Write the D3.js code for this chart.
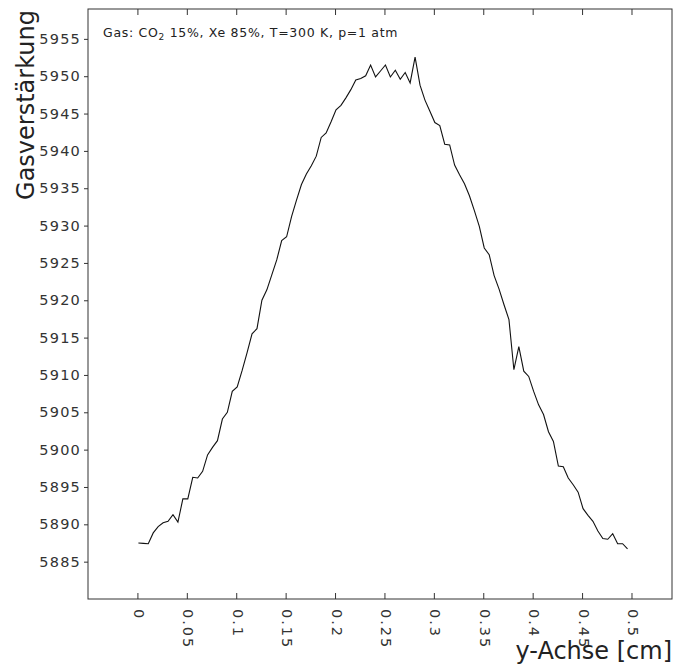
<html>
<script src="https://d3js.org/d3.v7.min.js"></script>
<body style="margin:0;background:#fff">
<script>
// position along y-axis [cm]
var yPos = [0.001, 0.006, 0.011, 0.016, 0.021, 0.026, 0.031, 0.036, 0.041, 0.046,
    0.051, 0.056, 0.061, 0.066, 0.071, 0.076, 0.081, 0.086, 0.091, 0.096,
    0.101, 0.106, 0.111, 0.116, 0.121, 0.126, 0.131, 0.136, 0.141, 0.146,
    0.151, 0.156, 0.161, 0.166, 0.171, 0.176, 0.181, 0.186, 0.191, 0.196,
    0.201, 0.206, 0.211, 0.216, 0.221, 0.226, 0.231, 0.236, 0.241, 0.246,
    0.251, 0.256, 0.261, 0.266, 0.271, 0.276, 0.281, 0.286, 0.291, 0.296,
    0.301, 0.306, 0.311, 0.316, 0.321, 0.326, 0.331, 0.336, 0.341, 0.346,
    0.351, 0.356, 0.361, 0.366, 0.371, 0.376, 0.381, 0.386, 0.391, 0.396,
    0.401, 0.406, 0.411, 0.416, 0.421, 0.426, 0.431, 0.436, 0.441, 0.446,
    0.451, 0.456, 0.461, 0.466, 0.471, 0.476, 0.481, 0.486, 0.491, 0.496]
// gas gain
var gain = [5887.5, 5887.45, 5887.4, 5888.85, 5889.7, 5890.2, 5890.4, 5891.3, 5890.3, 5893.4,
    5893.4, 5896.3, 5896.2, 5897.1, 5899.3, 5900.3, 5901.2, 5904.1, 5905.0, 5907.8,
    5908.4, 5910.6, 5913.0, 5915.5, 5916.2, 5920.0, 5921.4, 5923.4, 5925.4, 5928.0,
    5928.5, 5931.2, 5933.4, 5935.5, 5936.9, 5938.0, 5939.3, 5941.8, 5942.4, 5943.9,
    5945.5, 5946.1, 5947.1, 5948.2, 5949.5, 5949.7, 5950.05, 5951.5, 5949.9, 5950.7,
    5951.5, 5949.9, 5950.8, 5949.6, 5950.5, 5949.1, 5952.55, 5948.8, 5946.8, 5945.3,
    5943.8, 5943.4, 5940.9, 5940.8, 5938.1, 5936.8, 5935.6, 5934.0, 5932.0, 5929.9,
    5927.0, 5926.1, 5923.3, 5921.5, 5919.4, 5917.4, 5910.7, 5913.8, 5910.5, 5909.8,
    5907.8, 5906.0, 5904.7, 5902.4, 5901.1, 5897.8, 5897.7, 5896.2, 5895.3, 5894.3,
    5892.1, 5891.2, 5890.4, 5889.1, 5888.1, 5888.0, 5888.75, 5887.4, 5887.4, 5886.7]

var xTicks = [0, 0.05, 0.1, 0.15, 0.2, 0.25, 0.3, 0.35, 0.4, 0.45, 0.5]
var yTicks = [5885, 5890, 5895, 5900, 5905, 5910, 5915, 5920, 5925, 5930, 5935, 5940, 5945, 5950, 5955]

var width = 681, height = 670
var pl = 88, pr = 672, pt = 9, pb = 599
var svg = d3.select('body').append('svg').attr('width', width).attr('height', height)
    .style('font-family', 'DejaVu Sans')

var x = d3.scaleLinear().domain([-0.05, 0.541]).range([pl, pr])
var y = d3.scaleLinear().domain([5880, 5959]).range([pb, pt])

// frame
svg.append('rect').attr('x', pl).attr('y', pt).attr('width', pr - pl).attr('height', pb - pt)
    .attr('fill', 'none').attr('stroke', '#333').attr('stroke-width', 1)

// left axis, ticks outward
var gy = svg.append('g').attr('transform', `translate(${pl},0)`)
    .call(d3.axisLeft(y).tickValues(yTicks).tickSize(4).tickPadding(3).tickFormat(d3.format('d')))
gy.select('.domain').remove()
gy.selectAll('line').attr('stroke', '#333')
gy.selectAll('text').attr('fill', '#333').style('font-size', '14.5px').style('font-family', 'DejaVu Sans')
    .style('letter-spacing', '1.2px')

// top axis, ticks inward
var gt = svg.append('g').attr('transform', `translate(0,${pt})`)
    .call(d3.axisTop(x).tickValues(xTicks).tickSize(-6).tickFormat(''))
gt.select('.domain').remove()
gt.selectAll('line').attr('stroke', '#333')

// bottom axis, ticks inward, rotated labels
var gb = svg.append('g').attr('transform', `translate(0,${pb})`)
    .call(d3.axisBottom(x).tickValues(xTicks).tickSize(-6).tickFormat(function(d){return String(d)}))
gb.select('.domain').remove()
gb.selectAll('line').attr('stroke', '#333')
gb.selectAll('text')
    .attr('y', 0).attr('x', 0).attr('dy', null)
    .attr('transform', 'translate(0,10) rotate(90)')
    .attr('text-anchor', 'start').attr('dominant-baseline', 'middle')
    .attr('fill', '#333').style('font-size', '14.5px').style('font-family', 'DejaVu Sans')
    .style('letter-spacing', '2px')

// curve
var line = d3.line().x(function(d, i){return x(yPos[i])}).y(function(d){return y(d)})
svg.append('path').datum(gain).attr('d', line)
    .attr('fill', 'none').attr('stroke', '#111').attr('stroke-width', 1.1)

// titles
svg.append('text').text('y-Achse [cm]').attr('x', pr).attr('y', 659)
    .attr('text-anchor', 'end').style('font-size', '24px').attr('fill', '#222')
svg.append('text').text('Gasverstärkung')
    .attr('transform', `translate(34,${pt + 1}) rotate(-90)`)
    .attr('text-anchor', 'end').style('font-size', '24px').attr('fill', '#222')

var info = svg.append('text').attr('x', 103).attr('y', 37).style('font-size', '12.5px').attr('fill', '#222')
    .style('letter-spacing', '0.7px')
info.append('tspan').text('Gas: CO')
info.append('tspan').text('2').attr('dy', 3).style('font-size', '9px')
info.append('tspan').text(' 15%, Xe 85%, T=300 K, p=1 atm').attr('dy', -3)
</script>
</body>
</html>
